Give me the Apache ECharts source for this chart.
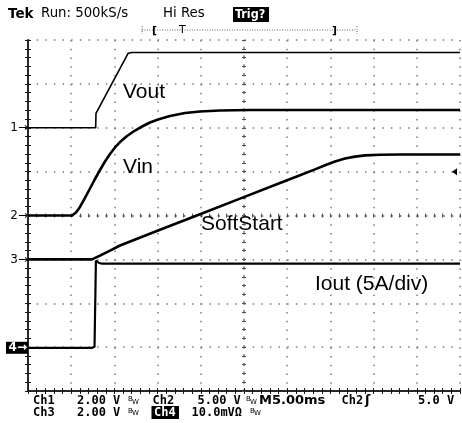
<!DOCTYPE html>
<html><head><meta charset="utf-8">
<script src="https://cdn.jsdelivr.net/npm/echarts@6/dist/echarts.min.js"></script>
<style>html,body{margin:0;padding:0;background:#fff}#c{width:462px;height:423px}</style>
</head><body><div id="c"></div>
<script>
// time in ms (M5.00ms -> 5 ms/div, 10 div), level in screen divisions from graticule bottom (8 div)
const voutTime  = [0, 7.83, 7.87, 11.6, 12.0, 50];
const voutLevel = [6.0, 6.0, 6.33, 7.70, 7.715, 7.715];
const vinTime   = [0, 5.093, 5.556, 6.019, 6.597, 7.176, 7.755, 8.333, 8.912, 9.491, 10.069, 10.648, 11.458, 12.384, 13.310, 14.120, 15.046, 16.435, 18.171, 19.907, 22.222, 25.694, 50];
const vinLevel  = [4.0, 4.0, 4.068, 4.194, 4.399, 4.615, 4.832, 5.037, 5.231, 5.402, 5.550, 5.675, 5.812, 5.937, 6.040, 6.120, 6.188, 6.268, 6.336, 6.370, 6.393, 6.405, 6.405];
const ssTime    = [0, 7.407, 8.333, 9.491, 10.648, 15.278, 19.907, 24.537, 29.167, 31.481, 33.218, 34.375, 35.532, 36.690, 37.847, 39.005, 40.741, 43.056, 50];
const ssLevel   = [3.0, 3.0, 3.086, 3.200, 3.316, 3.674, 4.030, 4.385, 4.741, 4.918, 5.051, 5.144, 5.229, 5.297, 5.342, 5.370, 5.386, 5.390, 5.390];
const ioutTime  = [0, 7.4, 7.7, 7.82, 7.86, 8.0, 8.2, 8.5, 50];
const ioutLevel = [0.985, 0.985, 1.01, 1.03, 2.97, 2.95, 2.92, 2.905, 2.905];
const chNames   = ['1', '2', '3', '4'];
const chLevels  = [6.0, 4.0, 3.0, 0.985];
const trigLevel = 5.0;
const traceLabels = ['Vout', 'Vin', 'SoftStart', 'Iout (5A/div)'];

const zip = (a, b) => a.map((v, i) => [v, b[i]]);
const chart = echarts.init(document.getElementById('c'), null, {renderer: 'canvas'});

const BORDER = '#1a1a1a', DOT = '#7a7a7a';
const X = {type: 'value', min: 0, max: 50, interval: 5, axisLabel: {show: false}, splitLine: {show: false}};
const Y = {type: 'value', min: 0, max: 8, interval: 1, axisLabel: {show: false}, splitLine: {show: false}};
const border = {show: true, lineStyle: {color: BORDER, width: 1.5}};
const bTick = {show: true, inside: true, length: 3, lineStyle: {color: BORDER, width: 1}};
const bMinor = {show: true, splitNumber: 5, length: 3, lineStyle: {color: BORDER, width: 1}};
const hidden = {show: true, lineStyle: {opacity: 0}};
const cTick = {show: true, inside: true, length: 4, lineStyle: {color: '#555', width: 1}};
const cMinor = {show: true, splitNumber: 5, length: 4, lineStyle: {color: '#555', width: 1}};

const option = {
  animation: false,
  backgroundColor: '#fff',
  grid: {left: 28, top: 40, width: 432, height: 351, containLabel: false},
  xAxis: [
    Object.assign({}, X, {position: 'bottom', axisLine: border, axisTick: bTick, minorTick: bMinor,
      splitLine: {show: true, lineStyle: {color: DOT, width: 1.5, type: [1.5, 7.275]}}}),
    Object.assign({}, X, {position: 'top', axisLine: border, axisTick: bTick, minorTick: bMinor}),
    Object.assign({}, X, {position: 'bottom', offset: -175.5, axisLine: {show: true, lineStyle: {color: DOT, width: 1.5, type: [1.5, 7.14]}}, axisTick: {show: false}}),
    Object.assign({}, X, {position: 'bottom', offset: -173.5, axisLine: hidden, axisTick: cTick, minorTick: cMinor})
  ],
  yAxis: [
    Object.assign({}, Y, {position: 'left', axisLine: border, axisTick: bTick, minorTick: bMinor,
      splitLine: {show: true, lineStyle: {color: DOT, width: 1.5, type: [1.5, 7.14]}}}),
    Object.assign({}, Y, {position: 'right', axisLine: border, axisTick: bTick, minorTick: bMinor}),
    Object.assign({}, Y, {position: 'left', offset: -216, axisLine: {show: true, lineStyle: {color: DOT, width: 1.5, type: [1.5, 7.275]}}, axisTick: {show: false}}),
    Object.assign({}, Y, {position: 'left', offset: -214, axisLine: hidden, axisTick: cTick, minorTick: cMinor})
  ],
  series: [
    {name: 'Vout', type: 'line', data: zip(voutTime, voutLevel), showSymbol: false, symbol: 'none', lineStyle: {color: '#000', width: 1.6}, z: 5},
    {name: 'Vin', type: 'line', data: zip(vinTime, vinLevel), showSymbol: false, symbol: 'none', lineStyle: {color: '#000', width: 2.6, join: 'round'}, z: 5},
    {name: 'SoftStart', type: 'line', data: zip(ssTime, ssLevel), showSymbol: false, symbol: 'none', lineStyle: {color: '#000', width: 2.6, join: 'round'}, z: 5},
    {name: 'Iout', type: 'line', data: zip(ioutTime, ioutLevel), showSymbol: false, symbol: 'none', lineStyle: {color: '#000', width: 2.2}, z: 5}
  ]
};
chart.setOption(option);

function txt(text, x, y, font, opts) {
  return {type: 'text', z: 20, style: Object.assign({text: text, x: x, y: y, font: font, fill: '#000',
    align: 'left', textAlign: 'left', verticalAlign: 'middle', textVerticalAlign: 'middle'}, opts || {})};
}
function box(x, y, w, h) { return {type: 'rect', z: 19, shape: {x: x, y: y, width: w, height: h}, style: {fill: '#000'}}; }

const G = [];
const LBL = '21px "Liberation Sans", Arial, sans-serif';
const lblPos = [[123, 92], [123, 167], [201, 224], [315, 284]];
traceLabels.forEach((t, i) => G.push(txt(t, lblPos[i][0], lblPos[i][1], LBL)));

// channel ground markers
chNames.forEach((n, i) => {
  const y = chart.convertToPixel({yAxisIndex: 0}, chLevels[i]);
  if (n === '4') {
    G.push(box(6, y - 6, 22, 12));
    G.push(txt(n + '\u2192', 27, y, 'bold 12px "DejaVu Sans", sans-serif', {fill: '#fff', align: 'right', textAlign: 'right'}));
  } else {
    G.push(txt(n + '\u2192', 28, y, '12px "DejaVu Sans", sans-serif', {align: 'right', textAlign: 'right'}));
  }
});
// trigger level marker
const ty = chart.convertToPixel({yAxisIndex: 0}, trigLevel);
G.push({type: 'polygon', z: 20, shape: {points: [[452, ty], [457, ty - 3.5], [457, ty + 3.5]]}, style: {fill: '#000'}});

// header
const HF = '13.3px "DejaVu Sans", sans-serif';
G.push(txt('Tek', 8, 14, 'bold 13.5px "DejaVu Sans", sans-serif'));
G.push(txt('Run: 500kS/s', 41, 14, HF));
G.push(txt('Hi Res', 163, 14, HF));
G.push(box(233, 7, 36, 15));
G.push(txt('Trig?', 235, 14.5, 'bold 12.5px "DejaVu Sans Condensed", "DejaVu Sans", sans-serif', {fill: '#fff'}));
// record bar
G.push({type: 'line', z: 18, shape: {x1: 142, y1: 30, x2: 357, y2: 30}, style: {stroke: '#666', lineWidth: 1, lineDash: [1, 1.5]}});
G.push({type: 'line', z: 18, shape: {x1: 142, y1: 26, x2: 142, y2: 34}, style: {stroke: '#666', lineWidth: 1, lineDash: [1, 1.5]}});
G.push({type: 'line', z: 18, shape: {x1: 357, y1: 26, x2: 357, y2: 34}, style: {stroke: '#666', lineWidth: 1, lineDash: [1, 1.5]}});
G.push(txt('[', 152, 31, 'bold 11px "DejaVu Sans", sans-serif'));
G.push(txt('T', 179, 30, '11px "DejaVu Sans", sans-serif'));
G.push(txt(']', 332, 31, 'bold 11px "DejaVu Sans", sans-serif'));

// footer
const FF = 'bold 12px "DejaVu Sans Mono", monospace';
const SF = '7px "DejaVu Sans", sans-serif';
const r1 = 401, r2 = 412.5;
G.push(txt('Ch1', 33, r1, FF));
G.push(txt('2.00 V', 77, r1, FF));
G.push(txt('B', 128, r1 - 1.5, SF)); G.push(txt('W', 132, r1 + 1, SF));
G.push(txt('Ch2', 152.5, r1, FF));
G.push(txt('5.00 V', 197.5, r1, FF));
G.push(txt('B', 246, r1 - 1.5, SF)); G.push(txt('W', 250, r1 + 1, SF));
G.push(txt('M5.00ms', 259, r1, 'bold 13px "DejaVu Sans", sans-serif'));
G.push(txt('Ch2', 341.5, r1, FF));
G.push(txt('\u0283', 365, r1, 'bold 13px "DejaVu Sans", sans-serif'));
G.push(txt('5.0 V', 418, r1, FF));
G.push(txt('Ch3', 33, r2, FF));
G.push(txt('2.00 V', 77, r2, FF));
G.push(txt('B', 128, r2 - 1.5, SF)); G.push(txt('W', 132, r2 + 1, SF));
G.push(box(151.5, r2 - 6.5, 27.5, 13));
G.push(txt('Ch4', 154, r2, FF, {fill: '#fff'}));
G.push(txt('10.0mV\u03A9', 191.5, r2, FF));
G.push(txt('B', 250, r2 - 1.5, SF)); G.push(txt('W', 254, r2 + 1, SF));

chart.setOption({graphic: G});
</script></body></html>
